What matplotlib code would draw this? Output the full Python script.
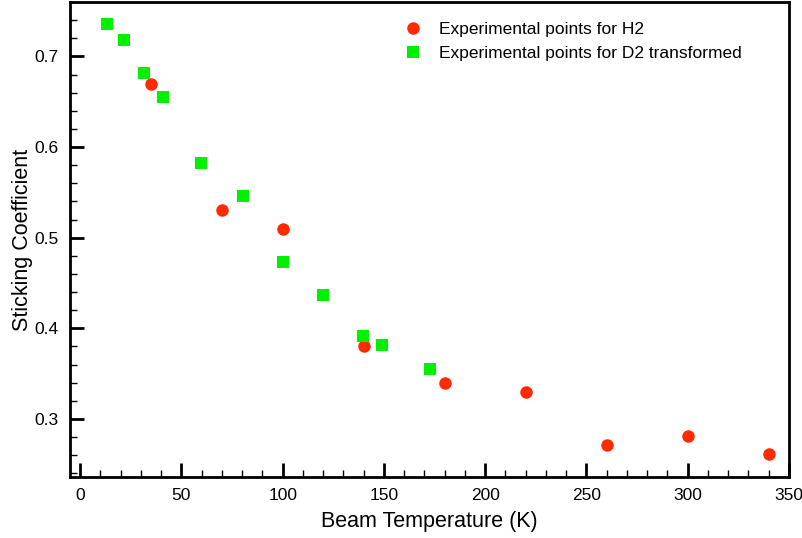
import matplotlib
matplotlib.use("Agg")
import matplotlib.pyplot as plt
from matplotlib.ticker import MultipleLocator

plt.rcParams['font.family'] = ['Liberation Sans', 'DejaVu Sans']

h2_temp = [35, 70, 100, 140, 180, 220, 260, 300, 340]
h2_stick = [0.670, 0.530, 0.510, 0.380, 0.340, 0.330, 0.271, 0.281, 0.261]

d2_temp = [13.5, 21.6, 31.6, 41.1, 59.6, 80.6, 100.0, 120.1, 139.5, 148.9, 172.8]
d2_stick = [0.736, 0.718, 0.682, 0.655, 0.582, 0.546, 0.473, 0.437, 0.392, 0.382, 0.355]

fig = plt.figure(figsize=(8.02, 5.38), dpi=100)
ax = fig.add_axes([70/802, 1-477/538, 719/802, 475/538])

ax.plot(h2_temp, h2_stick, 'o', color='#ff2a00', markersize=9, markeredgewidth=0,
        label='Experimental points for H2')
ax.plot(d2_temp, d2_stick, 's', color='#00f000', markersize=8.5, markeredgewidth=0,
        label='Experimental points for D2 transformed')

ax.set_xlim(-5, 350)
ax.set_ylim(0.236, 0.760)
ax.xaxis.set_major_locator(MultipleLocator(50))
ax.xaxis.set_minor_locator(MultipleLocator(10))
ax.yaxis.set_major_locator(MultipleLocator(0.1))
ax.yaxis.set_minor_locator(MultipleLocator(0.02))
ax.tick_params(which='both', direction='in', top=False, right=False, labelsize=12.5)
ax.tick_params(which='major', length=10, width=2)
ax.tick_params(which='minor', length=5, width=1)
ax.tick_params(axis='x', pad=8)
ax.tick_params(axis='y', pad=8)
for s in ax.spines.values():
    s.set_linewidth(2)

ax.set_xlabel('Beam Temperature (K)', fontsize=15.5, labelpad=6)
ax.set_ylabel('Sticking Coefficient', fontsize=15.5, labelpad=1)

ax.legend(loc='upper left', bbox_to_anchor=(0.465, 0.958), frameon=False,
          fontsize=12.5, handlelength=1.0, handletextpad=1.0, labelspacing=0.52,
          borderpad=0, borderaxespad=0, numpoints=1)

fig.savefig('out.png', dpi=100)
